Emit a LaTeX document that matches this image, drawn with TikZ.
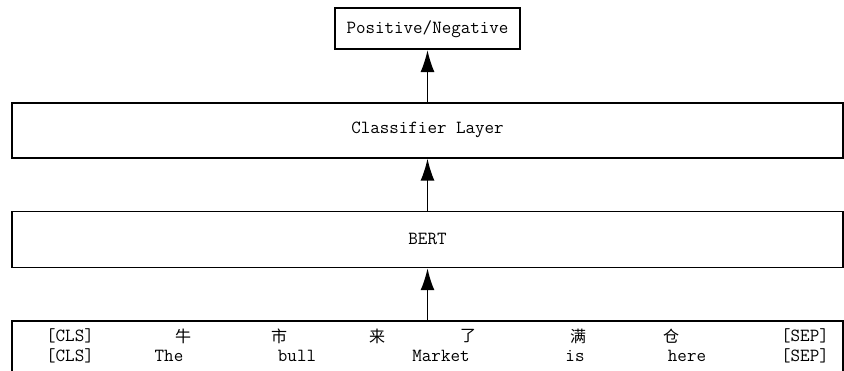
\documentclass[tikz,border=0pt]{standalone}
\usepackage{fontspec}
\newfontfamily\zhfont{Noto Sans CJK SC}
\usepackage{tikz}
\usetikzlibrary{positioning,arrows.meta}

\begin{document}
\begin{tikzpicture}[x=1pt,y=-1pt,node distance=52pt,
	layer/.style={draw,line width=1.6pt,minimum width=831pt,inner sep=0pt,font=\fontsize{18.5}{20}\selectfont\ttfamily},
	tok/.style={inner sep=0pt,anchor=center,font=\fontsize{18.5}{20}\selectfont\ttfamily},
	zhtok/.style={inner sep=0pt,anchor=center,font=\fontsize{16}{18}\selectfont\zhfont},
	up/.style={-{Latex[length=22pt,width=14pt]},line width=1.6pt}]
		
		\useasboundingbox (0,0) rectangle (844,370);
		
		\node[layer,minimum height=51pt] (input) at (427.5,346.5) {};
		\node[layer,minimum height=56pt] (bert) [above=of input] {BERT};
		\node[layer,minimum height=55pt] (cls) [above=of bert] {Classifier Layer};
		\node[layer,minimum width=185pt,minimum height=41pt] (out) [above=of cls] {Positive/Negative};
		
		% chinese row
		\node[tok] (zh1) at (70,336) {[CLS]};
		\node[zhtok] (zh2) at (183,336) {牛};
		\node[zhtok] (zh3) at (279,336) {市};
		\node[zhtok] (zh4) at (377,336) {来};
		\node[zhtok] (zh5) at (468,336) {了};
		\node[zhtok] (zh6) at (578,336) {满};
		\node[zhtok] (zh7) at (671,336) {仓};
		\node[tok] (zh8) at (805,336) {[SEP]};
		
		% english row
		\node[tok] (en1) at (70,356) {[CLS]};
		\node[tok] (en2) at (169,356) {The};
		\node[tok] (en3) at (297,356) {bull};
		\node[tok] (en4) at (441,356) {Market};
		\node[tok] (en5) at (575,356) {is};
		\node[tok] (en6) at (687,356) {here};
		\node[tok] (en7) at (805,356) {[SEP]};
		
		\draw[up] (input) -- (bert);
		\draw[up] (bert) -- (cls);
		\draw[up] (cls) -- (out);
		
		\end{tikzpicture}
\end{document}
